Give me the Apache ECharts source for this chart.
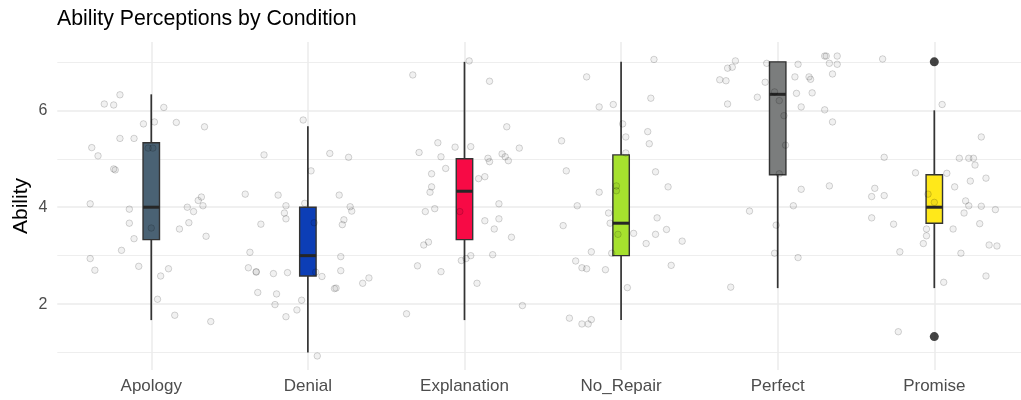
<!DOCTYPE html>
<html>
<head>
<meta charset="utf-8">
<script src="https://cdn.jsdelivr.net/npm/echarts@6/dist/echarts.min.js"></script>
<style>html,body{margin:0;padding:0;background:#fff}#c{width:1021px;height:400px}</style>
</head>
<body>
<div id="c"></div>
<script>
const categories = ['Apology', 'Denial', 'Explanation', 'No_Repair', 'Perfect', 'Promise'];
const boxColors = ['#4a6274', '#0c3eb6', '#f70a45', '#a6e22e', '#7b7d7d', '#ffe81a'];
const whiskerLow  = [1.67, 1.00, 1.67, 1.67, 2.33, 2.33];
const q1          = [3.33, 2.58, 3.33, 3.00, 4.67, 3.67];
const median      = [4.00, 3.00, 4.33, 3.67, 6.33, 4.00];
const q3          = [5.33, 4.00, 5.00, 5.08, 7.00, 4.67];
const whiskerHigh = [6.33, 5.67, 7.00, 7.00, 7.00, 6.00];
const outlierGroup = [6, 6];
const outlierValue = [7.00, 1.33];
const yMajorTicks = [2, 4, 6];
const yMinorTicks = [1, 3, 5, 7];

// jittered observations: horizontal offset from the group centre, and value
const apologyDx = [-0.20,-0.30,-0.24,0.08,-0.05,0.02,0.16,0.34,-0.20,-0.11,-0.38,-0.34,-0.02,0.01,-0.23,-0.24,-0.39,-0.14,-0.14,-0.11,0.00,-0.19,-0.39,-0.36,-0.08,0.06,0.11,0.18,0.23,0.27,0.24,0.30,0.32,0.33,0.35,0.04,0.15,0.38];
const apologyY  = [6.32,6.13,6.11,6.06,5.72,5.76,5.75,5.66,5.42,5.42,5.23,5.06,5.22,5.22,4.77,4.79,4.07,3.96,3.67,3.35,3.57,3.11,2.94,2.70,2.78,2.58,2.73,3.55,4.00,3.91,3.68,4.14,4.21,4.03,3.40,2.10,1.77,1.64];
const denialDx = [-0.03,-0.28,0.14,0.26,0.02,-0.40,-0.19,0.20,-0.14,-0.02,0.27,0.28,-0.15,-0.14,0.23,0.22,-0.30,0.04,-0.37,0.21,-0.38,-0.33,-0.33,-0.22,-0.13,0.05,0.09,0.21,0.39,0.35,-0.32,-0.20,0.17,0.18,-0.04,-0.21,-0.07,-0.14,0.06];
const denialY  = [5.80,5.08,5.11,5.03,4.75,4.27,4.25,4.25,4.03,4.08,4.01,3.92,3.88,3.76,3.74,3.64,3.65,3.68,3.07,2.98,2.75,2.66,2.67,2.63,2.65,2.66,2.57,2.69,2.54,2.43,2.24,2.21,2.32,2.33,2.08,1.99,1.88,1.74,0.93];
const explanationDx = [0.03,-0.33,0.16,0.27,-0.17,-0.29,-0.06,0.04,-0.15,0.35,0.15,0.16,0.24,0.26,0.28,-0.12,-0.21,0.09,0.13,-0.21,-0.22,-0.03,-0.25,-0.19,0.22,0.13,0.22,0.19,0.30,-0.26,-0.23,-0.02,0.01,0.04,0.18,-0.30,-0.15,0.08,0.37,-0.37];
const explanationY  = [7.02,6.73,6.60,5.66,5.33,5.13,5.24,5.25,5.04,5.22,5.01,4.94,5.10,5.04,4.96,4.80,4.69,4.59,4.63,4.42,4.31,3.91,3.91,3.97,4.07,3.72,3.76,3.55,3.38,3.22,3.28,2.90,2.94,3.00,3.02,2.79,2.67,2.43,1.97,1.80];
const noRepairDx = [0.21,-0.22,0.19,-0.14,-0.05,0.01,0.03,0.17,0.18,-0.38,0.03,-0.35,0.22,0.30,-0.03,-0.03,-0.14,-0.28,-0.08,-0.07,-0.37,0.23,0.29,-0.02,0.08,0.22,0.16,0.39,-0.19,-0.06,-0.29,-0.25,-0.22,-0.10,0.32,0.04,-0.33,-0.25,-0.21,-0.19];
const noRepairY  = [7.05,6.69,6.25,6.07,6.12,5.72,5.45,5.56,5.31,5.37,5.12,4.75,4.73,4.42,4.44,4.34,4.31,4.03,3.88,3.67,3.62,3.78,3.54,3.44,3.46,3.44,3.25,3.30,3.08,3.05,2.89,2.75,2.73,2.71,2.80,2.34,1.71,1.59,1.59,1.68];
const perfectDx = [-0.27,-0.32,-0.29,-0.07,0.13,0.30,0.31,0.38,0.33,0.38,0.11,0.20,0.21,0.35,-0.37,-0.33,-0.08,-0.02,0.12,0.22,-0.13,0.01,-0.32,0.15,0.30,0.35,0.04,0.05,0.01,0.33,0.15,0.10,-0.18,-0.01,-0.02,0.13,-0.30];
const perfectY  = [7.02,6.87,6.89,6.97,6.95,7.12,7.12,7.12,6.97,6.95,6.69,6.69,6.64,6.75,6.63,6.61,6.58,6.38,6.35,6.36,6.27,6.20,6.13,6.07,6.01,5.76,5.89,5.28,4.69,4.44,4.37,4.03,3.92,3.63,3.05,2.96,2.35];
const promiseDx = [-0.33,0.05,0.30,-0.32,0.16,0.22,0.25,0.26,-0.12,0.08,0.33,0.23,0.13,-0.38,-0.40,-0.32,-0.04,0.20,0.22,0.30,0.39,0.00,0.19,-0.40,-0.26,-0.05,-0.05,-0.07,0.12,0.29,-0.22,0.17,0.35,0.40,0.06,0.33,-0.23];
const promiseY  = [7.06,6.12,5.45,5.03,5.01,5.01,5.01,4.87,4.71,4.70,4.60,4.54,4.42,4.39,4.22,4.24,4.27,4.13,4.03,4.02,3.95,4.10,3.88,3.78,3.65,3.55,3.41,3.25,3.55,3.66,3.08,3.05,3.22,3.20,2.45,2.58,1.43];

const jitterDx = [apologyDx, denialDx, explanationDx, noRepairDx, perfectDx, promiseDx];
const jitterY  = [apologyY, denialY, explanationY, noRepairY, perfectY, promiseY];

const jitterData = [];
jitterDx.forEach((arr, g) => arr.forEach((dx, k) => jitterData.push([g + 1 + dx, jitterY[g][k]])));

const boxData = categories.map((c, i) => [i + 1, whiskerLow[i], q1[i], median[i], q3[i], whiskerHigh[i], i]);
const outlierData = outlierGroup.map((g, i) => [g, outlierValue[i]]);

const gridLine = (w, c) => ({ type: 'solid', width: w, color: c });
const markData = [];
yMajorTicks.forEach(v => markData.push({ yAxis: v, lineStyle: gridLine(1.5, '#ebebeb') }));
yMinorTicks.forEach(v => markData.push({ yAxis: v, lineStyle: gridLine(1, '#eeeeee') }));
categories.forEach((c, i) => markData.push({ xAxis: i + 1, lineStyle: gridLine(1.5, '#ebebeb') }));

const chart = echarts.init(document.getElementById('c'), null, { renderer: 'canvas' });
chart.setOption({
  animation: false,
  backgroundColor: '#ffffff',
  textStyle: { fontFamily: 'Liberation Sans, Arial, sans-serif' },
  title: {
    text: 'Ability Perceptions by Condition',
    left: 52, top: 4,
    textStyle: { fontSize: 21.3, fontWeight: 'normal', color: '#000', fontFamily: 'Liberation Sans' }
  },
  grid: { left: 57.3, right: 0, top: 42, bottom: 30, containLabel: false },
  xAxis: {
    type: 'value', min: 0.4, max: 6.5536,
    axisLine: { show: false }, axisTick: { show: false }, splitLine: { show: false },
    axisLabel: {
      customValues: [1, 2, 3, 4, 5, 6],
      formatter: v => categories[Math.round(v) - 1],
      fontSize: 17, color: '#4d4d4d', margin: 8, fontFamily: 'Liberation Sans'
    }
  },
  yAxis: {
    type: 'value', min: 0.64, max: 7.41,
    name: 'Ability', nameLocation: 'middle', nameGap: 26, nameRotate: 90, nameMoveOverlap: false,
    nameTextStyle: { fontSize: 21, color: '#000', fontFamily: 'Liberation Sans' },
    axisLine: { show: false }, axisTick: { show: false }, splitLine: { show: false },
    axisLabel: {
      customValues: yMajorTicks,
      fontSize: 16, color: '#4d4d4d', margin: 10, fontFamily: 'Liberation Sans'
    }
  },
  series: [
    {
      type: 'line', data: [], silent: true, z: 1,
      markLine: { z: 1, silent: true, symbol: ['none', 'none'], label: { show: false }, animation: false, data: markData }
    },
    {
      type: 'custom', z: 10, clip: false,
      encode: { x: 0, y: [1, 2, 3, 4, 5] },
      data: boxData,
      renderItem: function (params, api) {
        const x = api.value(0);
        const pLow = api.coord([x, api.value(1)]);
        const pQ1 = api.coord([x, api.value(2)]);
        const pMed = api.coord([x, api.value(3)]);
        const pQ3 = api.coord([x, api.value(4)]);
        const pHigh = api.coord([x, api.value(5)]);
        const half = api.size([0.105, 0])[0] / 2;
        const fill = boxColors[api.value(6)];
        const stroke = '#333333';
        return {
          type: 'group',
          children: [
            { type: 'line', shape: { x1: pQ3[0], y1: pQ3[1], x2: pHigh[0], y2: pHigh[1] }, style: { stroke: stroke, lineWidth: 1.7 } },
            { type: 'line', shape: { x1: pQ1[0], y1: pQ1[1], x2: pLow[0], y2: pLow[1] }, style: { stroke: stroke, lineWidth: 1.7 } },
            { type: 'rect', shape: { x: pQ3[0] - half, y: pQ3[1], width: half * 2, height: pQ1[1] - pQ3[1] }, style: { fill: fill, stroke: stroke, lineWidth: 1.4 } },
            { type: 'line', shape: { x1: pMed[0] - half, y1: pMed[1], x2: pMed[0] + half, y2: pMed[1] }, style: { stroke: '#262626', lineWidth: 3 } }
          ]
        };
      }
    },
    {
      type: 'scatter', z: 11, data: outlierData, symbol: 'circle', symbolSize: 9,
      itemStyle: { color: '#141414' }, silent: true
    },
    {
      type: 'scatter', z: 12, data: jitterData, symbol: 'circle', symbolSize: 6.5,
      itemStyle: { color: 'rgba(0,0,0,0.07)', borderColor: 'rgba(0,0,0,0.2)', borderWidth: 1 }, silent: true
    }
  ]
});
</script>
</body>
</html>
